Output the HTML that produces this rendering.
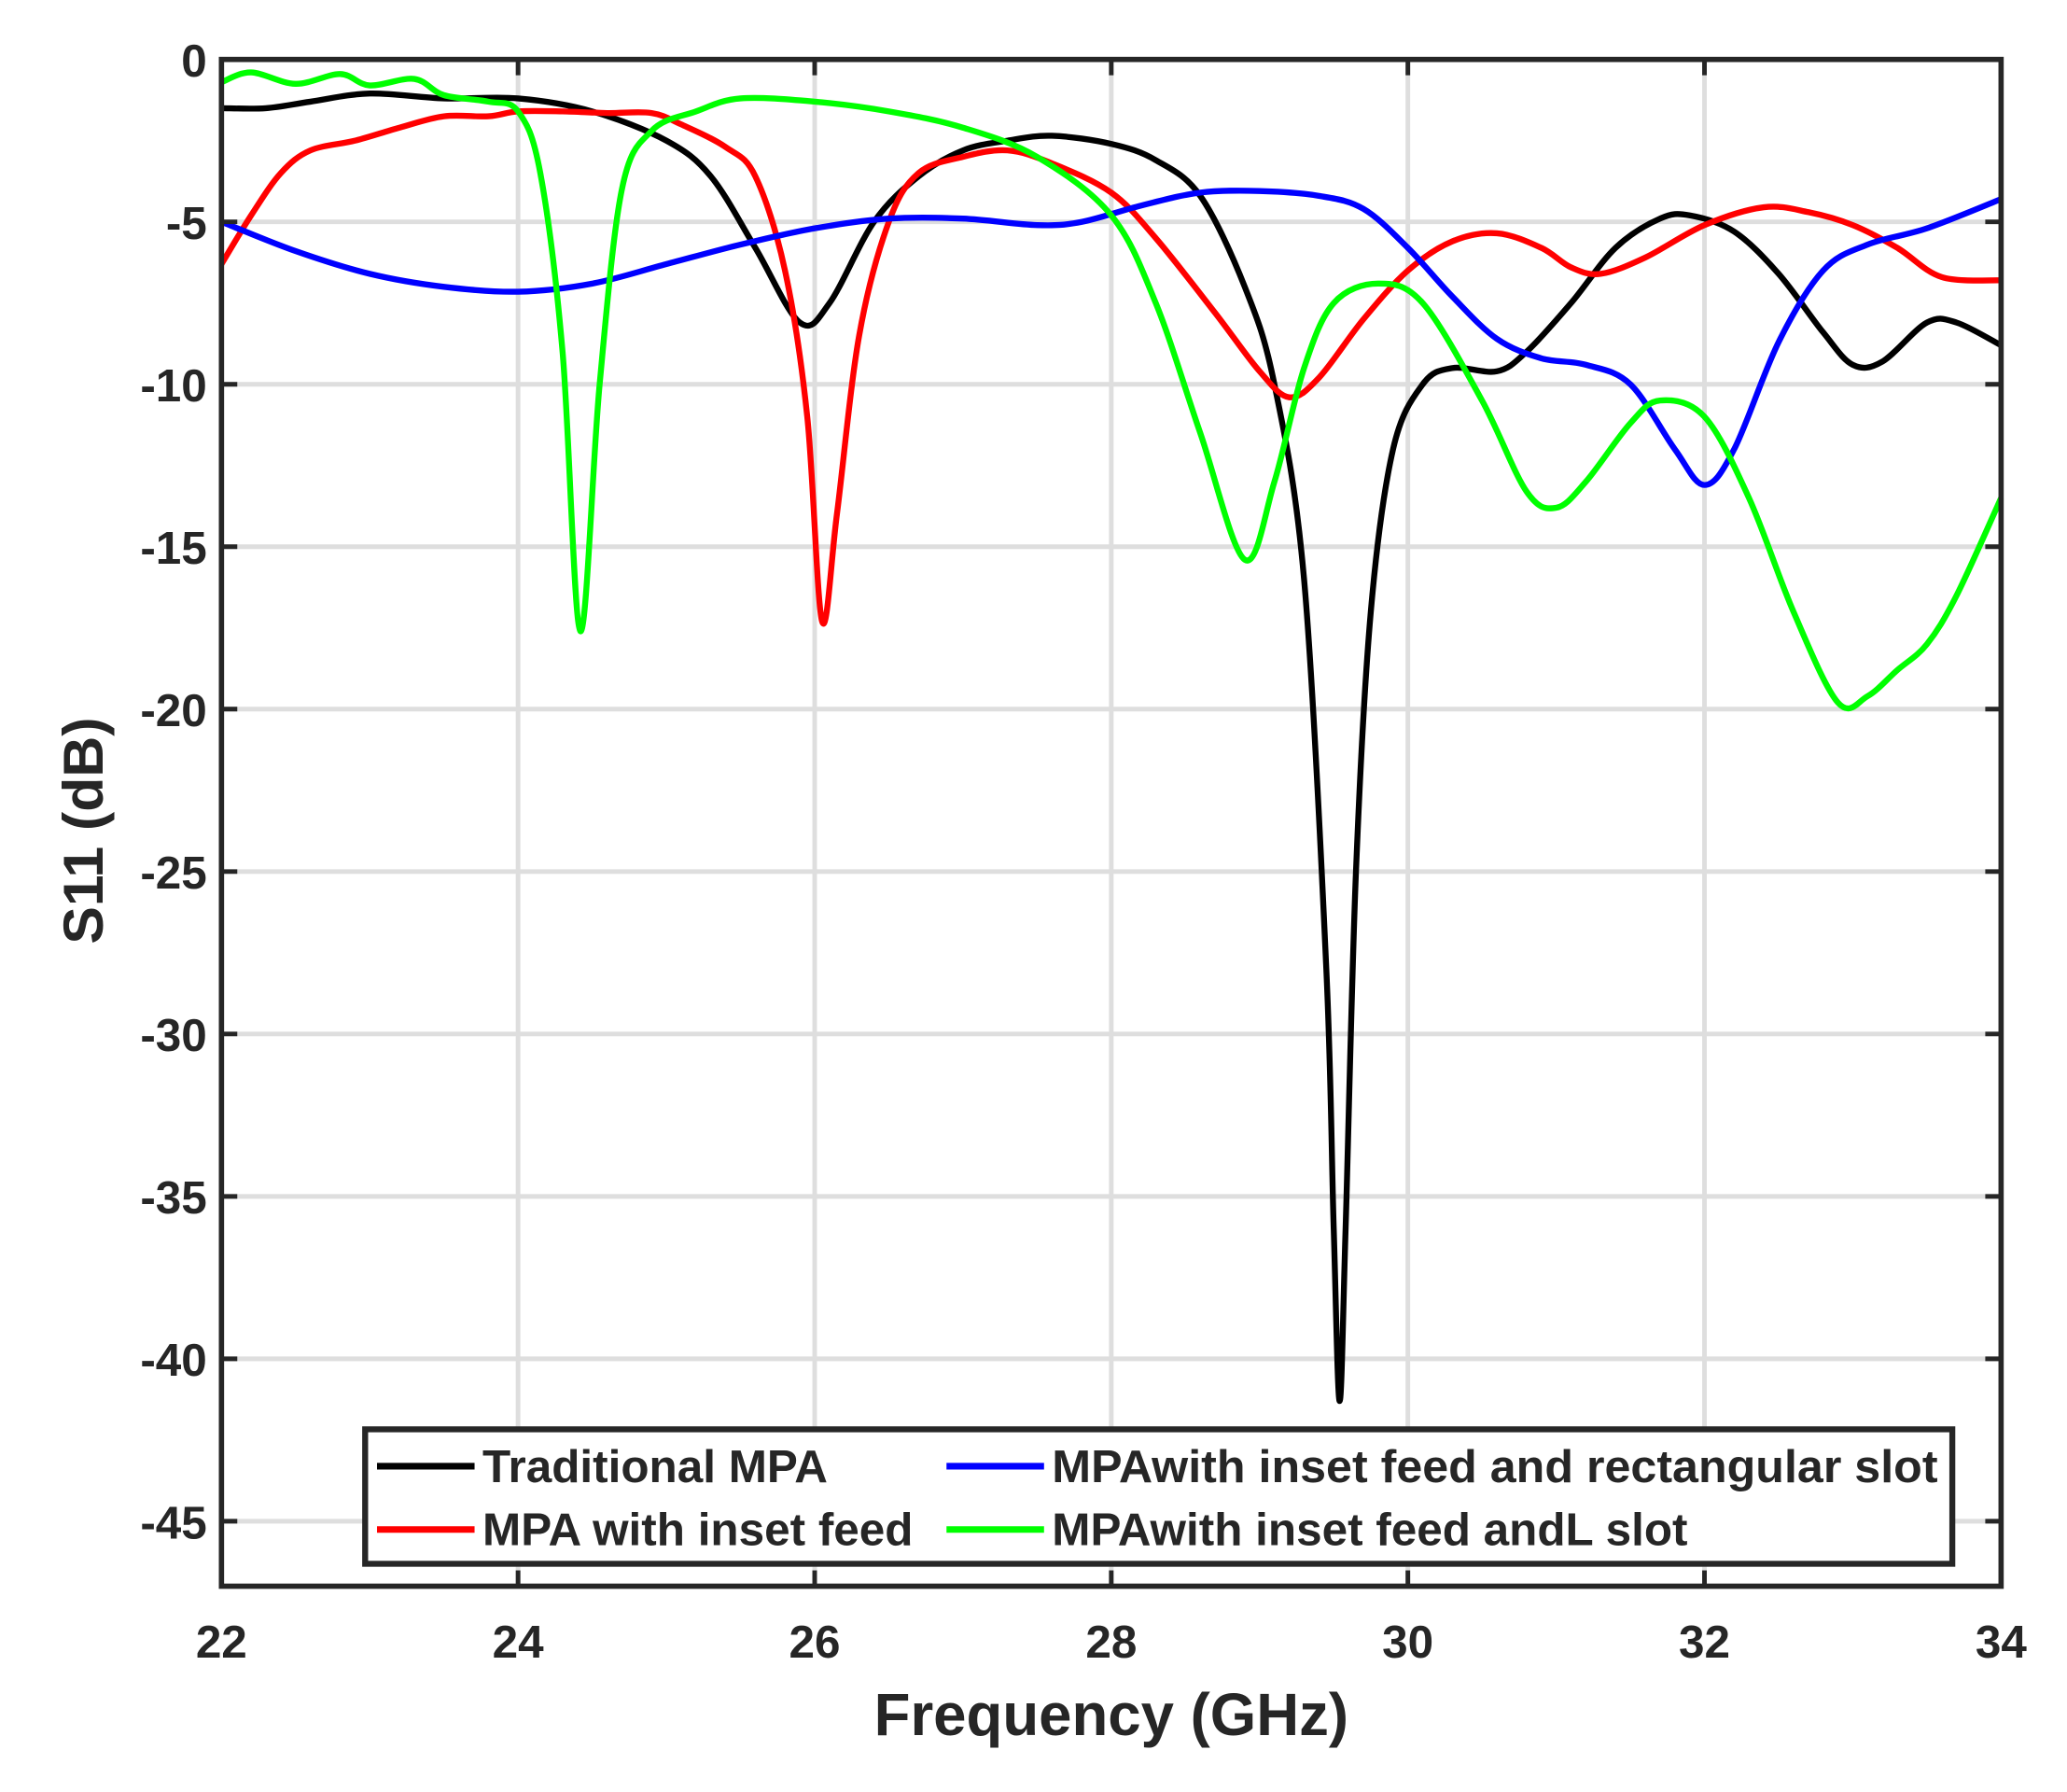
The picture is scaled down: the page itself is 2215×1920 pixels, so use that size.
<!DOCTYPE html>
<html><head><meta charset="utf-8"><style>html,body{margin:0;padding:0;background:#fff}svg{display:block}text{font-family:"Liberation Sans",Arial,sans-serif;font-weight:bold;fill:#262626}</style></head>
<body>
<svg id="chart" width="2215" height="1920" viewBox="0 0 1568 1359" xmlns="http://www.w3.org/2000/svg">
<g id="grid"></g>
<g id="series"></g>
<g id="axes"></g>
<text x="843" y="1316" font-size="45" text-anchor="middle">Frequency (GHz)</text>
<text x="0" y="0" font-size="43" text-anchor="middle" transform="translate(78,630) rotate(-90)">S11 (dB)</text>
<g id="legend">
<rect x="277" y="1084" width="1204" height="102" fill="#fff" stroke="#262626" stroke-width="4.5"/>
<line x1="286" y1="1112" x2="360" y2="1112" stroke="#000" stroke-width="5"/>
<text x="366" y="1124" font-size="35">Traditional MPA</text>
<line x1="286" y1="1160" x2="360" y2="1160" stroke="#ff0000" stroke-width="5"/>
<text x="366" y="1172" font-size="35">MPA with inset feed</text>
<line x1="718" y1="1112" x2="792" y2="1112" stroke="#0000ff" stroke-width="5"/>
<text x="798" y="1124" font-size="35" textLength="672" lengthAdjust="spacingAndGlyphs">MPAwith inset feed and rectangular slot</text>
<line x1="718" y1="1160" x2="792" y2="1160" stroke="#00ff00" stroke-width="5"/>
<text x="798" y="1172" font-size="35">MPAwith inset feed andL slot</text>
</g>
</svg>
<script>
const xTicks=[22,24,26,28,30,32,34];
const yTicks=[0,-5,-10,-15,-20,-25,-30,-35,-40,-45];
const tradX=[22,22.3,22.6,23,23.5,24,24.5,25,25.3,25.6,25.9,26.1,26.4,26.7,27,27.3,27.6,28,28.3,28.6,28.9,29.1,29.3,29.45,29.5,29.54,29.58,29.65,29.75,29.9,30.1,30.3,30.6,30.8,31.1,31.4,31.7,31.9,32.2,32.5,32.8,33,33.2,33.5,33.7,34];
const tradY=[-1.5,-1.5,-1.3,-1.05,-1.2,-1.2,-1.6,-2.5,-3.6,-5.8,-8.1,-7.5,-5,-3.6,-2.8,-2.5,-2.35,-2.6,-3.1,-4.2,-7,-10,-16,-28,-36,-41.3,-36,-25,-17,-12,-10,-9.5,-9.6,-9,-7.5,-5.8,-4.9,-4.8,-5.3,-6.6,-8.4,-9.4,-9.3,-8.1,-8.1,-8.8];
const insetX=[22,22.2,22.4,22.6,22.9,23.2,23.5,23.8,24,24.3,24.6,24.9,25.1,25.4,25.6,25.8,25.95,26.05,26.15,26.3,26.5,26.7,27,27.3,27.6,28,28.3,28.7,29,29.2,29.4,29.7,30,30.3,30.6,30.9,31.1,31.3,31.6,32,32.4,32.7,33,33.3,33.6,34];
const insetY=[-6.3,-4.8,-3.5,-2.8,-2.5,-2.1,-1.75,-1.75,-1.6,-1.6,-1.65,-1.65,-2,-2.7,-3.6,-6.5,-11,-17.3,-14,-8.5,-5,-3.5,-3,-2.8,-3.2,-4.1,-5.5,-7.8,-9.6,-10.4,-9.8,-8,-6.5,-5.6,-5.35,-5.8,-6.4,-6.6,-6.1,-5.1,-4.55,-4.7,-5.1,-5.8,-6.7,-6.8];
const rectX=[22,22.5,23,23.5,24,24.5,25,25.5,26,26.5,27,27.5,27.8,28.2,28.6,29,29.4,29.7,30,30.3,30.6,30.9,31.2,31.5,31.8,32,32.2,32.5,32.8,33.1,33.5,34];
const rectY=[-5,-5.9,-6.6,-7,-7.15,-6.9,-6.3,-5.7,-5.2,-4.9,-4.9,-5.1,-5.0,-4.5,-4.1,-4.05,-4.2,-4.6,-5.8,-7.3,-8.6,-9.2,-9.4,-10,-12,-13.1,-12,-8.7,-6.5,-5.7,-5.2,-4.3];
const lslotX=[22,22.2,22.5,22.8,23,23.3,23.5,23.8,24,24.15,24.3,24.42,24.55,24.7,24.9,25.2,25.5,26,26.5,27,27.5,28,28.3,28.6,28.9,29.1,29.3,29.5,29.8,30.1,30.5,30.8,31,31.2,31.5,31.7,32,32.3,32.6,32.9,33.1,33.3,33.5,33.7,34];
const lslotY=[-0.7,-0.4,-0.75,-0.45,-0.8,-0.6,-1.1,-1.3,-1.6,-3.5,-9,-17.6,-10,-4,-2.2,-1.6,-1.2,-1.3,-1.6,-2.1,-3.0,-4.8,-7.5,-11.5,-15.4,-13,-9.5,-7.5,-6.9,-7.5,-10.5,-13.3,-13.8,-13,-11.2,-10.5,-11,-13.5,-17,-19.8,-19.6,-18.8,-18,-16.5,-13.5];
const L=168,R=1518,T=45,B=1203,XMIN=22,XMAX=34,YMIN=-47,YMAX=0;
const sx=v=>L+(v-XMIN)/(XMAX-XMIN)*(R-L);
const sy=v=>T+(YMAX-v)/(YMAX-YMIN)*(B-T);
const NS='http://www.w3.org/2000/svg';
function mk(tag,attrs,parent){const e=document.createElementNS(NS,tag);for(const k in attrs)e.setAttribute(k,attrs[k]);parent.appendChild(e);return e;}
const grid=document.getElementById('grid'),axes=document.getElementById('axes'),series=document.getElementById('series');
xTicks.forEach(t=>{
 const g=mk('line',{x1:sx(t),x2:sx(t),y1:T,y2:B,stroke:'#dedede','stroke-width':3.5},grid);
 
 
 [[B,B-12],[T,T+12]].forEach(p=>{const k=mk('line',{x1:sx(t),x2:sx(t),y1:p[0],y2:p[1],stroke:'#262626','stroke-width':3.5},axes);
 
 });
 const tx=mk('text',{x:sx(t),y:1257,'font-size':35,'text-anchor':'middle'},axes);tx.textContent=t;
 
 
});
yTicks.forEach(t=>{
 const g=mk('line',{x1:L,x2:R,y1:sy(t),y2:sy(t),stroke:'#dedede','stroke-width':3.5},grid);
 
 
 [[L,L+12],[R,R-12]].forEach(p=>{const k=mk('line',{x1:p[0],x2:p[1],y1:sy(t),y2:sy(t),stroke:'#262626','stroke-width':3.5},axes);
 
 });
 const tx=mk('text',{x:157,y:sy(t)+13,'font-size':35,'text-anchor':'end'},axes);tx.textContent=t;
 
 
});
const fr=mk('rect',{x:L,y:T,width:R-L,height:B-T,fill:'none',stroke:'#262626','stroke-width':4},axes);


function path(xs,ys){const p=xs.map((x,i)=>[sx(x),sy(ys[i])]);let d='M'+p[0][0]+','+p[0][1];
 for(let i=0;i<p.length-1;i++){const p0=p[i-1]||p[i],p1=p[i],p2=p[i+1],p3=p[i+2]||p2;
 const c1=[p1[0]+(p2[0]-p0[0])/6,p1[1]+(p2[1]-p0[1])/6],c2=[p2[0]-(p3[0]-p1[0])/6,p2[1]-(p3[1]-p1[1])/6];
 d+=' C'+c1[0]+','+c1[1]+' '+c2[0]+','+c2[1]+' '+p2[0]+','+p2[1];}return d;}
[[tradX,tradY,'#000','traditional-mpa-line'],[insetX,insetY,'#ff0000','inset-feed-line'],[rectX,rectY,'#0000ff','rect-slot-line'],[lslotX,lslotY,'#00ff00','l-slot-line']].forEach(s=>{
 const e=mk('path',{d:path(s[0],s[1]),fill:'none',stroke:s[2],'stroke-width':4.5,'stroke-linejoin':'round'},series);
 
 
});
</script>
</body></html>
